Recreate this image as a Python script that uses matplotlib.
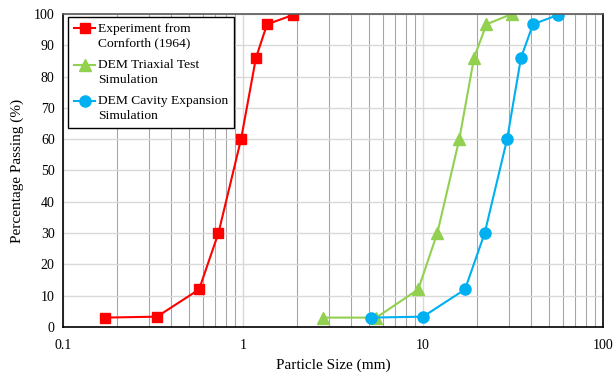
import matplotlib
matplotlib.use('Agg')
import matplotlib.pyplot as plt
from matplotlib.ticker import LogLocator, FixedLocator, NullFormatter
from matplotlib.legend_handler import HandlerLine2D

plt.rcParams['font.family'] = ['Liberation Serif', 'DejaVu Serif']

# particle size (mm) / percentage passing (%)
exp_size = [0.171, 0.333, 0.57, 0.73, 0.975, 1.18, 1.36, 1.90]
exp_pass = [3.0, 3.3, 12, 30, 60, 86, 96.7, 99.7]

tri_size = [2.78, 5.5, 9.4, 12.0, 15.9, 19.2, 22.5, 31.2]
tri_pass = [3.0, 3.0, 12, 30, 60, 86, 96.7, 100]

cav_size = [5.14, 10.0, 17.1, 22.0, 29.3, 35.0, 40.8, 56.3]
cav_pass = [3.0, 3.3, 12, 30, 60, 86, 96.7, 99.7]

labels = ['Experiment from\nCornforth (1964)', 'DEM Triaxial Test\nSimulation',
          'DEM Cavity Expansion\nSimulation']


class FirstLineHandler(HandlerLine2D):
    # put the legend symbol next to the first line of a 2-line label (excel style)
    def create_artists(self, legend, orig_handle, xdescent, ydescent, width, height, fontsize, trans):
        arts = super().create_artists(legend, orig_handle, xdescent, ydescent, width, height, fontsize, trans)
        for a in arts:
            a.set_ydata([y + 5.4 for y in a.get_ydata()])
        return arts


fig = plt.figure(figsize=(6.13, 3.74), dpi=100)
ax = fig.add_axes([0.1028, 0.1257, 0.881, 0.837])

ax.plot(exp_size, exp_pass, color='#ff0000', marker='s', markersize=7, lw=1.5, label=labels[0])
ax.plot(tri_size, tri_pass, color='#92d050', marker='^', markersize=8, lw=1.5, label=labels[1])
ax.plot(cav_size, cav_pass, color='#00b0f0', marker='o', markersize=8, lw=1.5, label=labels[2])

ax.set_xscale('log')
ax.set_xlim(0.1, 100)
ax.set_ylim(0, 100)
ax.set_yticks(range(0, 101, 10))
ax.xaxis.set_major_locator(FixedLocator([0.1, 1, 10, 100]))
ax.set_xticklabels(['0.1', '1', '10', '100'])
ax.xaxis.set_minor_locator(LogLocator(base=10, subs=range(2, 10)))
ax.xaxis.set_minor_formatter(NullFormatter())
ax.tick_params(which='both', length=0, labelsize=10)
ax.tick_params(axis='x', pad=9)
ax.tick_params(axis='y', pad=6)

ax.grid(axis='y', which='major', color='#d9d9d9', lw=1)
ax.grid(axis='x', which='major', color='#d9d9d9', lw=1)
ax.grid(axis='x', which='minor', color='#a6a6a6', lw=0.8)
ax.set_axisbelow(True)

for s in ['left', 'bottom', 'right']:
    ax.spines[s].set_color('black')
    ax.spines[s].set_linewidth(1.2)
ax.spines['top'].set_color('#595959')
ax.spines['top'].set_linewidth(1.2)

ax.set_xlabel('Particle Size (mm)', fontsize=11, labelpad=4)
ax.set_ylabel('Percentage Passing (%)', fontsize=11, labelpad=7)

leg = ax.legend(loc='upper left', bbox_to_anchor=(0.01, 0.99), borderaxespad=0, fontsize=9.7,
                fancybox=False, edgecolor='black', framealpha=1, handlelength=1.55,
                handletextpad=0.25, labelspacing=0.7, borderpad=0.42,
                handler_map={plt.Line2D: FirstLineHandler()})
leg.get_frame().set_linewidth(1.0)
for t in leg.get_texts():
    t.set_linespacing(1.32)

plt.savefig('out.png', dpi=100)
